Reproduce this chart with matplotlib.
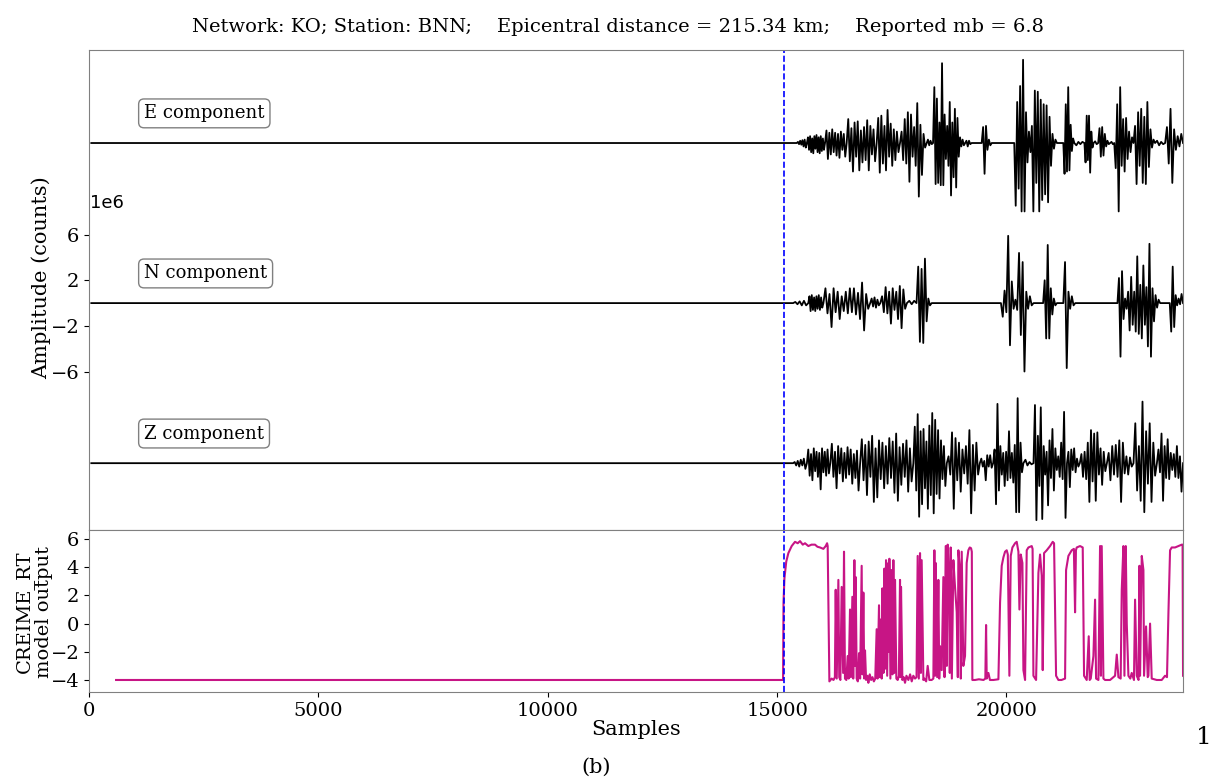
import numpy as np
import matplotlib.pyplot as plt
from matplotlib.ticker import FuncFormatter

plt.rcParams['font.family'] = 'DejaVu Serif'

n_samples = 23850
p_pick = 15150          # dashed line, sample of the pick
sep = 14.04e6           # vertical offset between components

# waveform bursts: (start sample, end sample, successive extremes in 1e6 counts)
e_bursts = [
    (15430, 15650, [0.1, -0.1, 0.2, -0.15, 0.25, -0.3, 0.3, -0.4]),
    (15650, 16045, [0.5, -0.6, 0.6, -0.8, 0.4, -0.9, 0.6, -0.5, 0.7, -0.8, 0.5, -0.9, 0.6, -0.7, 0.4, -0.6]),
    (16045, 16517, [1.1, -1.4, 0.9, -1.0, 1.2, -0.8, 0.9, -1.1, 0.8, -1.3, 1.0, -0.6, 0.8, -1.2]),
    (16517, 17171, [2.1, -1.6, 1.3, -2.5, 1.8, -1.2, 1.9, -2.4, 1.1, -1.7, 1.4, -1.5, 2.0, -2.4, 1.5, -1.0, 1.2, -1.6]),
    (17171, 17680, [2.2, -2.6, 2.4, -1.8, 1.5, -2.4, 2.9, -1.2, 1.7, -2.0, 1.2, -1.5, 1.0, -0.8]),
    (17680, 18261, [1.0, -1.5, 2.1, -1.8, 2.7, -3.4, 2.5, -1.2, 1.4, -2.0, 3.5, -4.7, 1.6, -2.8, 0.8, -0.4]),
    (18261, 18400, [0.3, -0.2, 0.2, -0.1]),
    (18400, 19100, [4.9, -3.6, 3.9, -3.5, 1.8, -3.7, 7.0, -3.7, 2.5, -1.4, 1.5, -2.0, 3.6, -4.6, 1.8, -3.0,
                    3.0, -3.9, 2.2, -1.2, 0.5, -0.3, 0.3, -0.2]),
    (19100, 19240, [0.2, -0.3, 0.2, -0.1]),
    (19460, 19680, [1.4, -2.7, 1.5, -0.6, 0.3, -0.2]),
    (20170, 21100, [-5.5, 3.6, -4.0, 5.0, -6.0, 7.3, -6.0, 2.7, -1.7, 1.0, -0.8, 1.5, -6.0, 4.6, -3.5, 4.5,
                    -6.0, 3.8, -5.0, 3.4, -4.5, 3.3, -5.2, 2.3, -2.0, 0.8, -0.5, 0.3]),
    (21240, 21480, [-2.7, 3.4, -2.5, 4.9, -2.4, 1.6, -0.7, 0.4]),
    (21480, 21700, [-0.2, 0.1, -0.1, 0.1]),
    (21700, 21900, [-1.7, 2.4, -1.5, 2.4, -2.6, 1.0, -0.4]),
    (21900, 22000, [0.15, -0.1]),
    (22000, 22260, [1.3, -1.2, 1.4, -1.1, 0.8, -0.3, 0.2, -0.1]),
    (22260, 22350, [0.1, -0.1]),
    (22350, 22770, [-2.2, 3.4, -6.0, 4.9, -2.0, 2.1, -2.5, 2.2, -1.4, 1.0, -0.8, 0.5]),
    (22770, 23240, [1.5, -3.6, 2.7, -2.0, 3.0, -3.5, 2.3, -3.6, 3.6, -2.1, 1.2, -0.4, 0.3]),
    (23240, 23460, [0.2, -0.2, 0.1, -0.1]),
    (23460, 23850, [1.4, -1.8, 3.0, -3.5, 1.2, -0.6, 0.6, -0.3, 0.8]),
]

n_bursts = [
    (15350, 15680, [0.1, -0.1, 0.15, -0.2, 0.2, -0.2]),
    (15680, 16010, [0.6, -0.7, 0.7, -0.6, 0.5, -0.7, 0.6, -0.5, 0.7, -0.6, 0.5, -0.4]),
    (16010, 17030, [1.3, -0.9, 0.8, -2.1, 1.3, -0.8, 1.0, -1.4, 0.6, -0.7, 1.0, -0.9, 1.3, -0.8, 1.3, -1.0,
                    0.9, -1.4, 1.8, -2.4, 0.8, -0.5]),
    (17030, 17250, [0.4, -0.3, 0.5, -0.4, 0.3, -0.2]),
    (17250, 17830, [0.6, -0.8, 1.4, -0.9, 1.0, -1.8, 1.3, -0.6, 1.0, -1.4, 1.5, -2.2, 1.2, -0.5]),
    (17830, 18040, [0.2, -0.1, 0.2]),
    (18040, 18370, [3.2, -3.4, 3.0, -3.5, 3.9, -1.6, 0.4, -0.2]),
    (19880, 20590, [-1.2, 1.1, -0.8, 5.9, -3.7, 1.9, -0.5, 0.3, -0.6, 4.4, -2.8, 3.6, -6.0, 1.0, -0.5, 0.6, -0.2]),
    (20800, 21100, [2.0, -3.1, 5.1, -3.1, 1.3, -1.0, 0.4, -0.2]),
    (21240, 21500, [3.6, -5.7, 1.0, -0.5, 0.6, -0.2]),
    (22420, 23350, [2.2, -4.7, 2.8, -1.4, 0.4, -0.5, 1.0, -2.4, 2.3, -1.9, 1.0, -2.5, 4.1, -2.7, 1.6, -3.1,
                    3.3, -1.9, 1.4, -3.8, 5.2, -4.7, 1.3, -1.6, 0.7, -0.4, 0.3]),
    (23560, 23850, [-2.5, 3.2, -2.1, 0.7, -0.2, 0.4, -0.1, 0.8]),
]

z_bursts = [
    (15350, 15650, [0.1, -0.2, 0.2, -0.3, 0.3, -0.2, 0.4, -0.5]),
    (15650, 16160, [1.2, -1.1, 0.8, -1.5, 1.3, -0.7, 1.0, -1.2, 0.9, -2.3, 1.3, -0.8, 1.0, -1.1, 1.2, -0.9]),
    (16160, 16810, [1.7, -1.2, 1.0, -2.2, 1.5, -0.9, 1.3, -1.6, 0.9, -1.3, 1.4, -1.0, 1.2, -1.8, 0.8, -1.3,
                    1.1, -2.4]),
    (16810, 17970, [2.1, -1.5, 1.6, -2.8, 1.9, -1.2, 2.4, -3.4, 1.3, -3.0, 2.0, -1.4, 1.8, -2.2, 1.5, -1.8,
                    2.2, -1.3, 1.9, -2.6, 2.6, -3.3, 1.4, -1.9, 1.7, -1.2, 2.0, -2.5, 1.3, -1.6]),
    (17970, 18700, [3.2, -2.4, 4.3, -4.7, 2.8, -3.6, 3.0, -2.2, 1.9, -4.0, 3.3, -2.8, 4.4, -4.4, 3.8, -2.7,
                    2.9, -3.1, 2.0, -1.4, 1.5, -2.0]),
    (18700, 19420, [0.6, -1.0, 2.7, -4.0, 2.2, -1.5, 1.8, -2.5, 1.2, -0.9, 1.5, -1.8, 2.9, -4.4, 1.6, -2.4,
                    1.8, -1.0]),
    (19420, 19710, [0.4, -0.3, 0.2, -1.5, 0.7, -0.3, 0.7, -0.4]),
    (19710, 20370, [1.2, -3.6, 5.2, -2.4, 1.5, -1.0, 0.9, -2.0, 1.0, -1.5, 2.8, -1.3, 0.9, -1.7, 1.6, -4.3,
                    5.7, -4.3, 1.8, -0.8]),
    (20370, 20590, [0.3, -0.2, 0.1, -0.1]),
    (20590, 21320, [5.1, -5.0, 2.4, -2.0, 4.9, -4.9, 1.5, -1.0, 1.0, -3.7, 2.0, -1.3, 3.0, -2.4, 1.3, -0.6,
                    0.6, -1.2, 1.8, -1.4, 4.5, -4.8]),
    (21320, 21600, [1.0, -2.1, 1.2, -0.6, 1.3, -0.8, 0.4, -0.3]),
    (21600, 22190, [0.8, -1.2, 1.0, -1.4, 1.8, -3.4, 2.9, -1.6, 2.6, -3.3, 2.7, -1.0, 1.3, -1.9, 1.0, -0.7]),
    (22190, 22770, [0.9, -1.5, 1.5, -1.0, 1.6, -1.2, 2.0, -3.4, 1.8, -0.9, 0.6, -1.0, 0.5, -0.3]),
    (22770, 23280, [3.5, -2.4, 1.5, -3.3, 5.4, -4.3, 2.8, -1.8, 3.5, -3.4, 1.8, -1.1]),
    (23280, 23850, [1.2, -0.8, 2.6, -3.3, 1.5, -1.3, 2.1, -1.4, 0.9, -0.6, 0.8, -1.2, 1.5, -1.3, 0.6, -2.5]),
]

# CREIME_RT output (sample, value)
cr_t = [590, 15130, 15140, 15160, 15200, 15246, 15318, 15391, 15450, 15500, 15560, 15609, 15682, 15750,
        15827, 15880, 15936, 16009, 16060, 16090, 16103, 16140,
        16190, 16230, 16260, 16278, 16300, 16336, 16355, 16380, 16408, 16440, 16459, 16480, 16510, 16539,
        16560, 16590, 16610, 16641, 16660, 16685, 16700, 16714, 16735, 16760, 16786, 16810, 16844, 16860,
        16881, 16900, 16917, 16940, 16970, 16990, 17020, 17050, 17080, 17110, 17140, 17171, 17190, 17222,
        17240, 17266, 17280, 17295, 17320, 17339, 17355, 17375, 17400, 17426, 17438, 17448, 17470, 17498,
        17515, 17535, 17555, 17571, 17600, 17629, 17655, 17680, 17690, 17702, 17731, 17760, 17789, 17820,
        17862, 17900, 17935, 17970, 18007, 18040, 18065, 18090, 18116, 18135, 18152, 18189, 18211, 18250,
        18283, 18320, 18370, 18407, 18429, 18445, 18458, 18490, 18516, 18535, 18552, 18589, 18625, 18650,
        18676, 18700, 18719, 18748, 18765, 18785, 18810, 18843, 18879, 18916, 18940, 18952, 18988, 19005,
        19025, 19060, 19097, 19133, 19170, 19200, 19228, 19245, 19257,
        19315, 19400, 19500, 19540, 19556, 19570, 19607, 19640, 19716, 19825, 19861, 19897, 19934, 19970,
        20006, 20030, 20064, 20094, 20130, 20188, 20224, 20261, 20283, 20312, 20348, 20370, 20406, 20442,
        20479, 20551, 20570, 20588, 20646, 20697, 20733, 20769, 20791, 20820, 20878, 20951, 21009, 21038,
        21082, 21133, 21200, 21278, 21300, 21351, 21423, 21470, 21496, 21515, 21532, 21605, 21663, 21692,
        21750, 21794, 21815, 21838, 21896, 21932, 21954, 22005, 22041, 22060, 22077, 22114, 22150, 22259,
        22368, 22405, 22441, 22490, 22514, 22550, 22572, 22601, 22623, 22659, 22700, 22731, 22780, 22804,
        22841, 22880, 22899, 22913, 22950, 22986, 23000, 23044, 23080, 23095, 23131, 23167, 23276, 23385,
        23458, 23500, 23531, 23567, 23603, 23676, 23749, 23822, 23840, 23850]
cr_v = [-4.0, -4.0, 1.5, 3.2, 4.4, 5.0, 5.5, 5.8, 5.7, 5.85, 5.6, 5.7, 5.5, 5.6,
        5.6, 5.45, 5.4, 5.3, 5.5, 5.7, 5.5, -4.1,
        -3.9, -4.0, -3.8, 2.4, -3.9, 3.1, -3.8, -4.0, 2.6, -3.5, 5.1, -3.9, -4.0, -2.3,
        -3.9, 1.0, -3.8, 1.9, -3.9, 4.5, -3.0, 3.3, -3.9, -4.1, -2.1, -3.9, 4.1, -3.6,
        2.2, -3.9, -1.9, -4.0, -3.7, -4.2, -3.6, -4.0, -3.8, -4.1, -3.9, -0.4, -3.9, 1.3,
        -3.8, 0.3, -3.9, 2.5, -3.5, 3.9, -3.2, 4.5, -3.7, 4.3, -2.0, 4.6, -3.9, 3.8,
        -3.6, 4.5, -3.5, 3.1, -3.9, -4.0, -3.7, 3.1, -3.8, 2.6, -4.0, -3.8, -4.2, -3.7,
        -4.0, -3.6, -4.1, -3.7, -3.9, -3.8, 4.8, -3.9, 5.0, -3.5, 4.5, -4.0, -3.9, -4.1,
        -3.0, -4.0, -4.0, -3.9, 5.2, -3.7, 4.3, -3.8, 3.1, -3.9, -1.6, -3.3, 3.3, -3.8,
        5.5, -3.0, 5.6, 2.9, -3.5, 5.4, -3.9, 4.5, 2.6, 0.8, -3.8, 5.2, 3.8, -3.9,
        5.1, -3.0, -2.3, 4.3, 5.2, 5.4, 5.35, 5.1, -4.0,
        -4.0, -3.95, -4.0, -3.9, -0.1, -3.9, -3.5, -4.0, -4.0, -3.95, 1.5, 4.1, 4.7, 5.1,
        5.2, 4.9, -3.7, 4.8, 5.4, 5.7, 5.8, 5.1, 1.0, 4.9, 4.3, -3.3, -4.0, 5.2,
        5.4, 5.5, 5.3, -3.7, -4.0, 3.6, 4.9, 3.4, -3.3, 5.0, 5.2, 5.5, 5.8, 5.7,
        -3.7, -4.0, -4.0, -3.9, 3.8, 4.8, 5.2, 5.3, 0.8, 5.2, 5.4, 5.5, 5.4, -3.7,
        -4.0, -0.9, -4.0, -3.9, -2.3, 1.7, -3.9, -4.0, 5.5, -3.7, 5.5, -3.9, -4.0, -4.0,
        -3.7, -2.2, -3.8, -3.9, 2.4, 5.5, -3.7, 5.5, 0.0, -3.7, -3.9, -3.5, -4.0, 1.7,
        -3.7, -4.0, 4.1, -3.7, 4.8, 3.8, -3.7, -0.2, -3.8, -3.7, 0.0, -3.9, -4.0, -4.0,
        -3.7, -3.8, 0.7, 5.2, 5.4, 5.4, 5.5, 5.6, 5.6, -3.7]


def build_trace(bursts):
    xs = [50, bursts[0][0]]
    ys = [0.0, 0.0]
    for start, end, amps in bursts:
        pos = np.linspace(start, end, len(amps) + 2)[1:-1]
        xs += [start] + list(pos) + [end]
        ys += [0.0] + [a * 1e6 for a in amps] + [0.0]
    xs.append(n_samples)
    ys.append(0.0)
    return np.array(xs), np.array(ys)


fig = plt.figure(figsize=(12.16, 7.81), dpi=100)
ax = fig.add_axes([0.0732, 0.3214, 0.8997, 0.6146])
ax2 = fig.add_axes([0.0732, 0.1140, 0.8997, 0.2074])

labels = ['E component', 'N component', 'Z component']
offsets = [sep, 0.0, -sep]
for bursts, off, lab in zip([e_bursts, n_bursts, z_bursts], offsets, labels):
    xs, ys = build_trace(bursts)
    ax.plot(xs, ys + off, color='k', lw=1.3)
    ax.text(1200, off + 2.6e6, lab, fontsize=13, ha='left', va='center',
            bbox=dict(boxstyle='round,pad=0.3', fc='white', ec='gray'))

ax.axvline(p_pick, color='blue', ls='--', lw=1.2)
ax.set_xlim(0, n_samples)
ax.set_ylim(-19.9e6, 22.2e6)
ax.set_yticks([6e6, 2e6, -2e6, -6e6])
ax.yaxis.set_major_formatter(FuncFormatter(lambda v, p: '{:g}'.format(v / 1e6).replace('-', '\u2212')))
ax.set_xticks([])
ax.tick_params(labelsize=14)
ax.text(0.001, 0.662, '1e6', transform=ax.transAxes, ha='left', va='bottom',
        fontsize=13, family='DejaVu Sans')
ax.set_ylabel('Amplitude (counts)', fontsize=15)
ax.yaxis.set_label_coords(-0.035, 0.525)

ax2.plot(cr_t, cr_v, color='mediumvioletred', lw=1.5)
ax2.axvline(p_pick, color='blue', ls='--', lw=1.2)
ax2.set_xlim(0, n_samples)
ax2.set_ylim(-4.85, 6.64)
ax2.set_yticks([6, 4, 2, 0, -2, -4])
ax2.set_xticks([0, 5000, 10000, 15000, 20000])
ax2.tick_params(labelsize=14)
ax2.set_xlabel('Samples', fontsize=15, labelpad=0)
ax2.set_ylabel('CREIME_RT\nmodel output', fontsize=14, linespacing=1.1)
ax2.yaxis.set_label_coords(-0.033, 0.494)

for a in (ax, ax2):
    for s in a.spines.values():
        s.set_color('gray')

fig.suptitle('Network: KO; Station: BNN;    Epicentral distance = 215.34 km;    Reported mb = 6.8',
             x=0.508, y=0.977, fontsize=14)
fig.text(0.49, 0.011, '(b)', fontsize=15, ha='center')
fig.text(0.99, 0.047, '1', fontsize=18, ha='center')

fig.savefig('out.png', dpi=100)
